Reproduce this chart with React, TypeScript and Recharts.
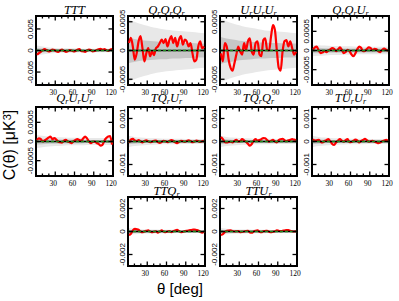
import React from 'react';
import { ComposedChart, Line, Area, XAxis, YAxis, ReferenceLine, ReferenceArea } from 'recharts';

// angle grid of the measured correlation (deg)
const theta = [
  1.5, 4.5, 7.5, 10.5, 13.5, 16.5, 19.5, 22.5, 25.5, 28.5,
  31.5, 34.5, 37.5, 40.5, 43.5, 46.5, 49.5, 52.5, 55.5, 58.5,
  61.5, 64.5, 67.5, 70.5, 73.5, 76.5, 79.5, 82.5, 85.5, 88.5,
  91.5, 94.5, 97.5, 100.5, 103.5, 106.5, 109.5, 112.5, 115.5, 118.5,
];
// angle grid of the simulation bands
const bandTheta = [0, 10, 20, 30, 40, 50, 60, 70, 80, 90, 100, 110, 120];
const xTicks = [0, 10, 20, 30, 40, 50, 60, 70, 80, 90, 100, 110, 120];

const titles = [
  'TTT', 'Q_rQ_rQ_r', 'U_rU_rU_r', 'Q_rQ_rU_r',
  'Q_rU_rU_r', 'TQ_rU_r', 'TQ_rQ_r', 'TU_rU_r',
  'TTQ_r', 'TTU_r',
];
const yLimits = [0.008, 0.0006, 0.0006, 0.0009, 0.0009, 0.0015, 0.0015, 0.0015, 0.003, 0.003];
const yTickSteps = [0.005, 0.0005, 0.0005, 0.0005, 0.0005, 0.001, 0.001, 0.001, 0.002, 0.002];

// measured three-point correlation (red)
const dataTTT = [
  -0.001, -0.0006, -0.0003, 0.0001, 0.0003, 0.0001, -0.0002, -0.0001, 0.0002, 0.0001,
  -0.0002, -0.0003, 0.0, 0.0002, -0.0001, -0.0003, -0.0002, 0.0001, 0.0, -0.0002,
  -0.0001, 0.0002, 0.0003, -0.0001, -0.0002, -0.0003, 0.0, 0.0002, 0.0001, -0.0002,
  -0.0001, 0.0001, 0.0003, 0.0004, 0.0002, 0.0003, 0.0001, -0.0001, 0.0002, 0.0003,
];
const dataQQQ = [
  0.00013, 0.00022, 0.00007, -0.00016, -0.00005, 0.00016, 0.00025, 0.00004, -0.00019, -0.00005,
  0.00004, -0.0001, -0.00002, -0.00008, 0.00004, 0.00007, 0.00013, 0.00019, 0.00013, 0.0002,
  0.00007, 0.00018, 0.00025, 0.00013, 0.00022, 0.00007, 0.00019, 0.00025, 0.0001, 0.00019,
  0.00016, 0.00007, 0.00013, -0.00005, -0.00019, -0.00016, 0.00007, 0.00016, 0.00004, 0.00007,
];
const dataUUU = [
  -0.00005, -0.00019, 0.00013, 0.00007, -0.00016, -0.0003, -0.00035, -0.00022, -0.00007, 0.00007,
  -0.00002, -0.00007, 0.00013, 0.00001, 0.00016, 0.00021, -0.00002, -0.00007, 0.00013, 0.00016,
  -0.00007, -0.0001, 0.00018, 0.00021, 0.00001, 0.0, 0.00024, 0.00044, 0.00036, 0.00001,
  -0.0003, -0.00035, -0.00002, 0.00016, 0.00018, 0.00007, 0.00016, 0.00004, -0.00007, -0.00002,
];
const dataQQU = [
  0.00002, 0.00008, 0.0001, 0.0, -0.00007, -0.00005, -0.00002, -0.00004, 0.0, 0.00003,
  0.00006, 0.00004, -0.00002, 0.00003, 0.00008, 0.00002, -0.00007, -0.00004, 0.00002, -0.00002,
  -0.0001, -0.00015, -0.00008, 0.00003, 0.0001, 0.00007, -0.00002, -0.00001, 0.00004, 0.00008,
  0.00006, 0.00001, 0.00004, 0.00003, -0.00002, -0.00004, 0.00002, 0.00005, 0.00002, -0.00001,
];
const dataQUU = [
  0.00004, 0.00008, 0.00006, 0.0, 0.00003, 0.00006, 0.0001, 0.00013, 0.00006, 0.00009,
  0.00005, 0.0, -0.00002, -0.00003, 0.00002, 0.00004, 0.0, -0.00002, -0.00004, 0.00001,
  0.00004, 0.00006, 0.00004, 0.00002, 0.00008, 0.00013, 0.00008, 0.0, -0.00004, -0.00001,
  0.0, -0.00004, -0.00006, -0.00011, -0.00009, 0.00002, 0.00009, 0.00013, 0.00014, -0.00008,
];
const dataTQU = [
  -0.00005, 0.00008, 0.00012, 0.00004, 0.00002, 0.00006, 0.0, -0.00004, 0.00002, 0.00005,
  0.00001, -0.00003, -0.00001, 0.00003, 0.00004, -0.00002, -0.00006, -0.00002, 0.00003, 0.00001,
  -0.00003, 0.00002, 0.00006, 0.00003, -0.00004, -0.00007, -0.00002, 0.00003, 0.00001, -0.00002,
  0.00002, 0.00005, 0.00002, -0.00003, 0.0, 0.00004, 0.00002, -0.00002, 0.00001, 0.00003,
];
const dataTQQ = [
  0.0002, 0.0001, -0.00002, -0.00004, -0.00002, -0.00001, -0.00004, 0.00003, 0.00007, 0.0,
  0.00002, 0.0001, 0.00005, -0.00001, -0.0001, -0.00018, -0.00011, 0.00004, 0.0001, 0.00004,
  0.00006, 0.0001, 0.00015, 0.00014, 0.00006, -0.00001, 0.00003, 0.00007, 0.0, -0.00004,
  0.00006, 0.0001, 0.00012, 0.00006, 0.00001, 0.00005, 0.00007, 0.0001, 0.00008, 0.00006,
];
const dataTUU = [
  0.0001, 0.00004, 0.00005, 0.00007, -0.00001, -0.00004, 0.00002, 0.00006, 0.0001, 0.00001,
  -0.00011, -0.00015, -0.00004, 0.00004, 0.0001, 0.00004, -0.00001, 0.00006, 0.0001, -0.00003,
  -0.00002, 0.00003, 0.00008, 0.00005, -0.00004, 0.00002, 0.00007, 0.00011, 0.00006, -0.00001,
  0.00001, 0.00003, -0.00001, -0.00004, -0.00007, -0.00004, 0.00001, 0.00004, 0.00007, 0.00003,
];
const dataTTQ = [
  -0.0003, -0.0002, 0.0001, 0.00023, 0.0002, 0.00015, 0.0, -0.00006, 0.0, 0.00005,
  0.00009, 0.0, -0.00006, -0.00002, 0.00002, -0.0001, 0.0, 0.00009, 0.0, -0.00006,
  0.0, 0.00003, -0.00006, 0.00002, 0.00009, 0.00014, 0.00005, -0.00006, -0.00002, 0.00003,
  0.00006, 0.00009, 0.00012, 0.00015, 0.00017, 0.00013, 0.00009, -0.00003, -0.00011, -0.00002,
];
const dataTTU = [
  -0.0003, -0.00022, -0.00005, 0.00006, 0.00008, 0.00009, 0.00004, 0.0, 0.00002, 0.00003,
  -0.00005, -0.00003, 0.0, 0.00004, 0.00006, -0.00008, -0.0001, 0.0, 0.00006, 0.00009,
  -0.00002, -0.00006, 0.00002, 0.00004, 0.00006, -0.00002, -0.00006, -0.00002, 0.00002, 0.00009,
  0.00006, 0.00003, 0.00006, 0.00009, 0.00013, 0.00012, 0.00006, 0.00002, 0.0, 0.00003,
];
const measured = [dataTTT, dataQQQ, dataUUU, dataQQU, dataQUU, dataTQU, dataTQQ, dataTUU, dataTTQ, dataTTU];

// simulation scatter: 2 sigma (light) and 1 sigma (dark) half-widths
const outerBands = [
  [0.0012, 0.0009, 0.0007, 0.0006, 0.0005, 0.0005, 0.0005, 0.0004, 0.0004, 0.0004, 0.0004, 0.0004, 0.0004],
  [0.00055, 0.0005, 0.00046, 0.00043, 0.0004, 0.00038, 0.00036, 0.00035, 0.00034, 0.00033, 0.00032, 0.00031, 0.0003],
  [0.00056, 0.00051, 0.00047, 0.00044, 0.00041, 0.00039, 0.00037, 0.00035, 0.00034, 0.00033, 0.00032, 0.00031, 0.0003],
  [0.00015, 0.00014, 0.00013, 0.00012, 0.00012, 0.00011, 0.00011, 0.0001, 0.0001, 0.0001, 0.0001, 0.0001, 0.0001],
  [0.00017, 0.00015, 0.00013, 0.00012, 0.00011, 0.0001, 0.0001, 0.0001, 0.00009, 0.00009, 0.00009, 0.00009, 0.00009],
  [0.00025, 0.0002, 0.00017, 0.00015, 0.00014, 0.00013, 0.00012, 0.00012, 0.00012, 0.00011, 0.00011, 0.00011, 0.00011],
  [0.00025, 0.0002, 0.00017, 0.00015, 0.00014, 0.00013, 0.00012, 0.00012, 0.00012, 0.00011, 0.00011, 0.00011, 0.00011],
  [0.00025, 0.0002, 0.00017, 0.00015, 0.00014, 0.00013, 0.00012, 0.00012, 0.00012, 0.00011, 0.00011, 0.00011, 0.00011],
  [0.0003, 0.00024, 0.0002, 0.00018, 0.00017, 0.00016, 0.00015, 0.00015, 0.00014, 0.00014, 0.00014, 0.00014, 0.00014],
  [0.0003, 0.00024, 0.0002, 0.00018, 0.00017, 0.00016, 0.00015, 0.00015, 0.00014, 0.00014, 0.00014, 0.00014, 0.00014],
];
const innerBands = [
  [0.0006, 0.00045, 0.00035, 0.0003, 0.00025, 0.00025, 0.00025, 0.0002, 0.0002, 0.0002, 0.0002, 0.0002, 0.0002],
  [0.00022, 0.0002, 0.00018, 0.00017, 0.00016, 0.00015, 0.00015, 0.00014, 0.00014, 0.00013, 0.00013, 0.00012, 0.00012],
  [0.00024, 0.00021, 0.00019, 0.00017, 0.00016, 0.00015, 0.00014, 0.00014, 0.00013, 0.00013, 0.00012, 0.00012, 0.00012],
  [0.00007, 0.00007, 0.00006, 0.00006, 0.00006, 0.00005, 0.00005, 0.00005, 0.00005, 0.00005, 0.00005, 0.00005, 0.00005],
  [0.00008, 0.00007, 0.00006, 0.00006, 0.00005, 0.00005, 0.00005, 0.00005, 0.00004, 0.00004, 0.00004, 0.00004, 0.00004],
  [0.00012, 0.0001, 0.00008, 0.00007, 0.00007, 0.00006, 0.00006, 0.00006, 0.00006, 0.00005, 0.00005, 0.00005, 0.00005],
  [0.00012, 0.0001, 0.00008, 0.00007, 0.00007, 0.00006, 0.00006, 0.00006, 0.00006, 0.00005, 0.00005, 0.00005, 0.00005],
  [0.00012, 0.0001, 0.00008, 0.00007, 0.00007, 0.00006, 0.00006, 0.00006, 0.00006, 0.00005, 0.00005, 0.00005, 0.00005],
  [0.00015, 0.00012, 0.0001, 0.00009, 0.00008, 0.00008, 0.00007, 0.00007, 0.00007, 0.00007, 0.00007, 0.00007, 0.00007],
  [0.00015, 0.00012, 0.0001, 0.00009, 0.00008, 0.00008, 0.00007, 0.00007, 0.00007, 0.00007, 0.00007, 0.00007, 0.00007],
];

// grid placement: column, row
const placement = [
  [0, 0], [1, 0], [2, 0], [3, 0],
  [0, 1], [1, 1], [2, 1], [3, 1],
  [1, 2], [2, 2],
];
const colLeft = [36, 128, 220, 312];
const rowTop = [16, 107, 197];
const titleMid = [10, 98, 191];

const PLOT_W = 77;
const PLOT_H = 69;
const M = { top: 14, right: 4, bottom: 16, left: 28 };
const CHART_W = M.left + 1 + PLOT_W + 1 + M.right;
const CHART_H = M.top + 1 + PLOT_H + 1 + M.bottom;

const BottomTick = (props: any) => {
  const { x, y, payload } = props;
  const v = payload.value;
  const major = v % 30 === 0;
  return (
    <g>
      <line x1={x} x2={x} y1={y} y2={y - (major ? 4.5 : 2.5)} stroke="#000" strokeWidth={1.3} />
      {major && v > 0 && (
        <text x={x - 2} y={y + 10} textAnchor="middle" fontSize={7.5} fontFamily="'Liberation Serif', serif" fill="#000">
          {v}
        </text>
      )}
    </g>
  );
};

const TopTick = (props: any) => {
  const { x, y, payload } = props;
  const major = payload.value % 30 === 0;
  return <line x1={x} x2={x} y1={y} y2={y + (major ? 4.5 : 2.5)} stroke="#000" strokeWidth={1.3} />;
};

const LeftTick = (props: any) => {
  const { x, y, payload } = props;
  return (
    <g>
      <line x1={x} x2={x + 4.5} y1={y} y2={y} stroke="#000" strokeWidth={1.3} />
      <text
        transform={`translate(${x - 3},${y}) rotate(-90)`}
        textAnchor="middle"
        fontSize={8}
        fontFamily="'Liberation Sans', sans-serif"
        fill="#000"
      >
        {payload.value}
      </text>
    </g>
  );
};

const RightTick = (props: any) => {
  const { x, y } = props;
  return <line x1={x} x2={x - 4.5} y1={y} y2={y} stroke="#000" strokeWidth={1.3} />;
};

const Title = ({ text }: { text: string }) => {
  const parts = text.split('_r');
  return (
    <>
      {parts.map((p, i) => (
        <React.Fragment key={i}>
          {p}
          {i < parts.length - 1 && <span style={{ fontSize: 8, position: 'relative', top: 2 }}>r</span>}
        </React.Fragment>
      ))}
    </>
  );
};

const Panel = ({ idx }: { idx: number }) => {
  const lim = yLimits[idx];
  const step = yTickSteps[idx];
  const redData = theta.map((t, i) => ({ t, v: measured[idx][i] }));
  const bandData = bandTheta.map((t, i) => ({
    t,
    outer: [-outerBands[idx][i], outerBands[idx][i]],
    inner: [-innerBands[idx][i], innerBands[idx][i]],
  }));
  const [col, row] = placement[idx];
  const left = colLeft[col];
  const top = rowTop[row];

  return (
    <>
      <div
        style={{
          position: 'absolute',
          left,
          top: titleMid[row] - 8,
          width: PLOT_W,
          textAlign: 'center',
          fontFamily: "'Liberation Serif', serif",
          fontStyle: 'italic',
          fontSize: 12.5,
          lineHeight: '16px',
          whiteSpace: 'nowrap',
        }}
      >
        <Title text={titles[idx]} />
      </div>
      <div style={{ position: 'absolute', left: left - M.left - 1, top: top - M.top - 1 }}>
        <ComposedChart width={CHART_W} height={CHART_H} margin={M}>
          <XAxis
            xAxisId="b"
            dataKey="t"
            type="number"
            domain={[0, 120]}
            ticks={xTicks}
            interval={0}
            tick={<BottomTick />}
            tickLine={false}
            axisLine={false}
            tickSize={0}
            tickMargin={0}
            height={1}
            allowDataOverflow
          />
          <XAxis
            xAxisId="t"
            orientation="top"
            dataKey="t"
            type="number"
            domain={[0, 120]}
            ticks={xTicks}
            interval={0}
            tick={<TopTick />}
            tickLine={false}
            axisLine={false}
            tickSize={0}
            tickMargin={0}
            height={1}
            allowDataOverflow
          />
          <YAxis
            yAxisId="l"
            type="number"
            domain={[-lim, lim]}
            ticks={[-step, 0, step]}
            interval={0}
            tick={<LeftTick />}
            tickLine={false}
            axisLine={false}
            tickSize={0}
            tickMargin={0}
            width={1}
            allowDataOverflow
          />
          <YAxis
            yAxisId="r"
            orientation="right"
            type="number"
            domain={[-lim, lim]}
            ticks={[-step, 0, step]}
            interval={0}
            tick={<RightTick />}
            tickLine={false}
            axisLine={false}
            tickSize={0}
            tickMargin={0}
            width={1}
            allowDataOverflow
          />
          <Area
            xAxisId="b"
            yAxisId="l"
            data={bandData}
            dataKey="outer"
            type="monotone"
            stroke="none"
            fill="#e8e8e8"
            fillOpacity={1}
            dot={false}
            activeDot={false}
            isAnimationActive={false}
          />
          <Area
            xAxisId="b"
            yAxisId="l"
            data={bandData}
            dataKey="inner"
            type="monotone"
            stroke="none"
            fill="#c6c6c6"
            fillOpacity={1}
            dot={false}
            activeDot={false}
            isAnimationActive={false}
          />
          <Line
            xAxisId="b"
            yAxisId="l"
            data={redData}
            dataKey="v"
            type="monotone"
            stroke="#ff0000"
            strokeWidth={2.2}
            dot={false}
            activeDot={false}
            isAnimationActive={false}
          />
          <ReferenceLine xAxisId="b" yAxisId="l" y={0} stroke="#000" strokeWidth={1.6} />
          <ReferenceLine xAxisId="b" yAxisId="l" y={0} stroke="#1f8a1f" strokeWidth={1.6} strokeDasharray="3 2" />
          <ReferenceArea
            xAxisId="b"
            yAxisId="l"
            x1={0}
            x2={120}
            y1={-lim}
            y2={lim}
            fill="none"
            fillOpacity={0}
            stroke="#000"
            strokeWidth={2}
          />
        </ComposedChart>
      </div>
    </>
  );
};

export default function App() {
  return (
    <div style={{ position: 'absolute', left: 0, top: 0, width: 399, height: 301, background: '#fff', overflow: 'hidden' }}>
      {titles.map((_, i) => (
        <Panel key={i} idx={i} />
      ))}
      <div
        style={{
          position: 'absolute',
          left: 10 - 60,
          top: 145 - 10,
          width: 120,
          height: 20,
          lineHeight: '20px',
          textAlign: 'center',
          transform: 'rotate(-90deg)',
          fontFamily: "'Liberation Sans', sans-serif",
          fontSize: 16,
          whiteSpace: 'nowrap',
        }}
      >
        C(θ) [μK<sup style={{ fontSize: 11, verticalAlign: 'top', lineHeight: '14px' }}>3</sup>]
      </div>
      <div
        style={{
          position: 'absolute',
          left: 180 - 50,
          top: 289 - 10,
          width: 100,
          height: 20,
          lineHeight: '20px',
          textAlign: 'center',
          fontFamily: "'Liberation Sans', sans-serif",
          fontSize: 15,
        }}
      >
        θ [deg]
      </div>
    </div>
  );
}
